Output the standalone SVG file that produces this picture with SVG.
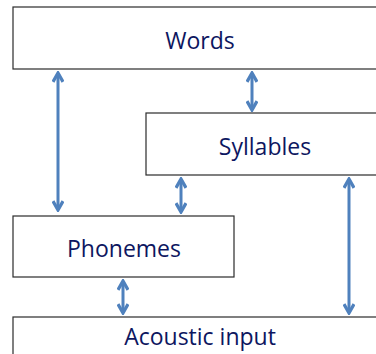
<svg xmlns="http://www.w3.org/2000/svg" width="376" height="354" viewBox="0 0 376 354">
<style>
.box{fill:#fff;stroke:#2b2b2b;stroke-width:1.2}
.lbl{font-family:"Open Sans","Liberation Sans",sans-serif;font-size:23px;fill:#0d1660;text-anchor:middle}
.con{stroke:#4f81bd;stroke-width:3;fill:none;marker-start:url(#ah);marker-end:url(#ah)}
</style>
<defs>
<marker id="ah" viewBox="0 0 10 10" refX="8.5" refY="5" markerWidth="4.2" markerHeight="4.2" orient="auto-start-reverse" markerUnits="strokeWidth">
<path d="M1.5,1 L8.5,5 L1.5,9" fill="none" stroke="#4f81bd" stroke-width="2.6" stroke-linejoin="miter"/>
</marker>
</defs>
<rect width="376" height="354" fill="#fff"/>
<g id="words"><rect class="box" x="13" y="7" width="370" height="62"/><text class="lbl" x="200" y="49">Words</text></g>
<g id="syllables"><rect class="box" x="146" y="113" width="240" height="62"/><text class="lbl" x="265" y="155">Syllables</text></g>
<g id="phonemes"><rect class="box" x="13" y="216" width="221" height="61"/><text class="lbl" x="124" y="257">Phonemes</text></g>
<g id="acoustic"><rect class="box" x="13" y="317" width="370" height="50"/><text class="lbl" x="200" y="345">Acoustic input</text></g>
<g id="connectors">
<line class="con" x1="58" y1="73" x2="58" y2="210"/>
<line class="con" x1="252" y1="73" x2="252" y2="110"/>
<line class="con" x1="181" y1="179" x2="181" y2="212"/>
<line class="con" x1="123" y1="281" x2="123" y2="313"/>
<line class="con" x1="349" y1="179" x2="349" y2="313"/>
</g>
</svg>
